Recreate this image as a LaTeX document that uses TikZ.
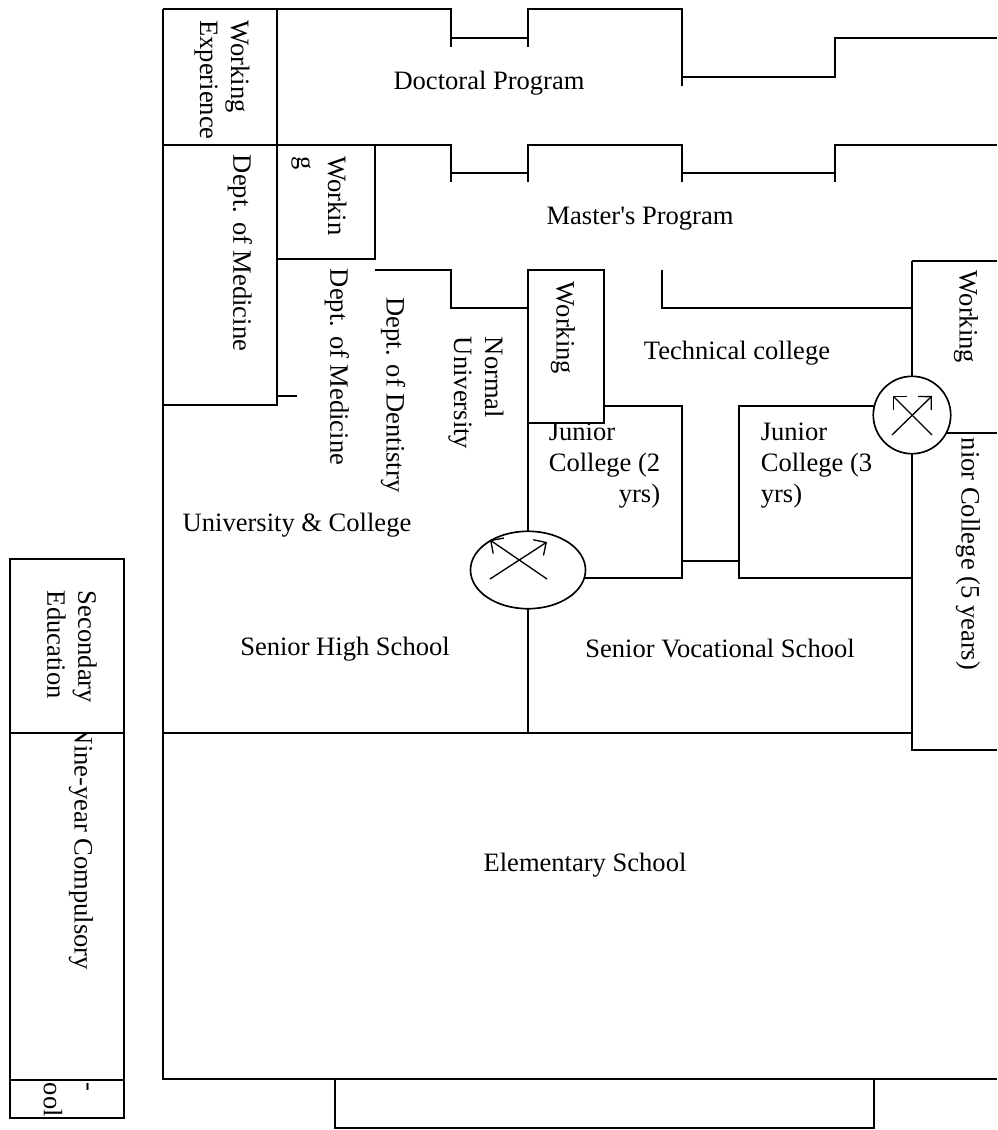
\documentclass[tikz,border=0pt]{standalone}
\usepackage{fontspec}
\setmainfont{Liberation Serif}
\usepackage{tikz}
\usetikzlibrary{arrows.meta, shapes.geometric}

\begin{document}
\begin{tikzpicture}[
    x=0.452pt, y=-0.452pt,   % one unit = one pixel of the scan
    line width=0.75pt,
    txt/.style={font=\fontsize{12}{14}\selectfont, inner sep=0pt},
    vtxt/.style={txt, rotate=-90, align=left},
    cell/.style={draw, fill=white},
    swap/.style={draw, fill=white, inner sep=0pt},
    cross/.style={-{Straight Barb[angle=90:6pt]}, line width=0.6pt}
]
\useasboundingbox (0,0) rectangle (997,1130);

% left column
\node[vtxt, anchor=west] (nineyear) at (81,725) {Nine-year Compulsory};
\draw (10,733) rectangle (124,1118);
\draw (10,1080) -- (124,1080);
\draw[cell] (10,559) rectangle (124,733);
\node[vtxt] (secedu) at (72,647) {Secondary\\Education};
\node[vtxt] (dash) at (85,1087) {-};
\node[vtxt, anchor=west] (preschool) at (53,1082) {ool};

% frame and year ticks
\draw (163,9) -- (163,1079) -- (997,1079);
\draw (335,1079) rectangle (874,1128);
\draw (163,9) -- (451,9) -- (451,47);
\draw (451,38) -- (528,38);
\draw (528,47) -- (528,9) -- (682,9) -- (682,86);
\draw (682,77) -- (835,77) -- (835,38) -- (997,38);
\draw (163,145) -- (451,145) -- (451,182);
\draw (451,173) -- (528,173);
\draw (528,182) -- (528,145) -- (682,145) -- (682,182);
\draw (682,173) -- (835,173);
\draw (835,182) -- (835,145) -- (997,145);

% graduate school side cells
\draw (277,9) -- (277,405) -- (163,405);
\draw (277,396) -- (297,396);
\draw (277,259) -- (375,259) -- (375,145);
\draw (375,270) -- (451,270) -- (451,308) -- (528,308);
\draw (528,270) -- (528,733);
\draw (662,270) -- (662,308) -- (912,308);

% junior colleges
\draw (604,406) -- (682,406) -- (682,578) -- (528,578);
\draw (682,561) -- (739,561);
\draw (912,406) -- (739,406) -- (739,578) -- (912,578);
\draw (163,733) -- (912,733);
\draw (912,261) -- (997,261);
\draw (912,261) -- (912,750) -- (997,750);
\draw (912,433) -- (997,433);

\node[txt, anchor=west] (jc2) at (548,465)
    {\begin{tabular}{@{}l@{}}Junior\\College (2\\\multicolumn{1}{@{}r@{}}{yrs)}\end{tabular}};
\node[txt, anchor=west] (jc3) at (760,465)
    {\begin{tabular}{@{}l@{}}Junior\\College (3\\yrs)\end{tabular}};
\node[vtxt, anchor=west] (jc5) at (968,437) {nior College (5 years)};

\draw[cell] (528,270) rectangle (604,423);

% transfer symbols
\node[swap, ellipse, minimum width=52pt, minimum height=35pt] (swap1) at (528,570) {};
\draw[cross] ([shift={(-38,9)}]swap1.center) -- ([shift={(19,-28)}]swap1.center);
\draw[cross] ([shift={(19,9)}]swap1.center) -- ([shift={(-38,-30)}]swap1.center);
\node[swap, circle, minimum size=35pt] (swap2) at (912,415) {};
\draw[cross] ([shift={(-20,20)}]swap2.center) -- ([shift={(20,-19)}]swap2.center);
\draw[cross] ([shift={(20,20)}]swap2.center) -- ([shift={(-19,-19)}]swap2.center);

% labels
\node[vtxt] (workexp) at (222,80) {Working\\Experience};
\node[txt] (doctor) at (489,83) {Doctoral Program};
\node[txt] (master) at (640,219) {Master\textquotesingle s Program};
\node[vtxt] (med1) at (240,253) {Dept. of Medicine};
\node[vtxt] (work1) at (319,196) {Workin\\g};
\node[vtxt] (med2) at (337,367) {Dept. of Medicine};
\node[vtxt] (dent) at (393,395) {Dept. of Dentistry};
\node[vtxt] (normal) at (476,393) {Normal\\University};
\node[txt] (univ) at (297,525) {University \& College};
\node[vtxt] (work2) at (563,328) {Working};
\node[txt] (tech) at (737,353) {Technical college};
\node[vtxt] (work3) at (966,317) {Working};
\node[txt] (senhigh) at (345,649) {Senior High School};
\node[txt] (senvoc) at (720,648) {Senior Vocational School};
\node[txt] (elem) at (585,865) {Elementary School};

\end{tikzpicture}
\end{document}
